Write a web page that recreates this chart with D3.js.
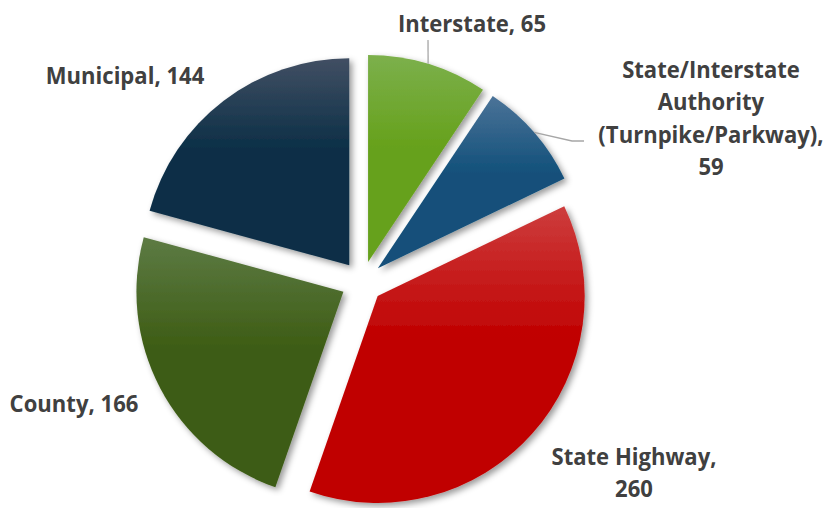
<!DOCTYPE html>
<html>
<head>
<meta charset="utf-8">
<script src="https://cdn.jsdelivr.net/npm/d3@7"></script>
<style>
    body { margin: 0; background: #ffffff; }
    svg { display: block; }
    .label { font-family: "Open Sans", sans-serif; font-weight: bold; font-size: 24px; fill: #404040; }
    .leader { fill: none; stroke: #a6a6a6; stroke-width: 1.3; }
</style>
</head>
<body>
<svg width="830" height="508"></svg>
<script>
let categories = ["Interstate", "State/Interstate Authority (Turnpike/Parkway)", "State Highway", "County", "Municipal"];
let values = [65, 59, 260, 166, 144];
let labelLines = [
    ["Interstate, 65"],
    ["State/Interstate", "Authority", "(Turnpike/Parkway),", "59"],
    ["State Highway,", "260"],
    ["County, 166"],
    ["Municipal, 144"]
];
let baseColors = ["#66a11b", "#12507a", "#c00000", "#3d5c14", "#0a2e46"];
let topColors = ["#7cb04c", "#4b7398", "#cd3d3d", "#5d7b44", "#414f63"];

// label anchors (center, first baseline) and optional leader end points
let labelLayout = [
    {x: 472, y: 32, leader: [[428, 40]]},
    {x: 711, y: 78, leader: [[572, 141], [584, 141]]},
    {x: 634, y: 465},
    {x: 74, y: 412},
    {x: 125, y: 84}
];

buildPie();

function buildPie(){
    let svg = d3.select("svg");
    let cx = 362, cy = 282, radius = 207, explode = 21, lineHeight = 32.5;

    let defs = svg.append("defs");
    let shadow = defs.append("filter")
        .attr("id", "shadow")
        .attr("x", "-20%").attr("y", "-20%")
        .attr("width", "140%").attr("height", "140%");
    shadow.append("feDropShadow")
        .attr("dx", 3).attr("dy", 3)
        .attr("stdDeviation", 3)
        .attr("flood-color", "#000")
        .attr("flood-opacity", 0.4);

    values.forEach(function(v, i){
        let grad = defs.append("linearGradient")
            .attr("id", "grad" + i)
            .attr("x1", 0).attr("y1", 0)
            .attr("x2", 0).attr("y2", 1);
        grad.append("stop").attr("offset", "0%").attr("stop-color", topColors[i]);
        grad.append("stop").attr("offset", "45%").attr("stop-color", baseColors[i]);
        grad.append("stop").attr("offset", "100%").attr("stop-color", baseColors[i]);
    });

    let pie = d3.pie().sort(null).value(function(d){ return d; });
    let arcs = pie(values);
    let arc = d3.arc().innerRadius(0).outerRadius(radius);

    let g = svg.append("g").attr("transform", "translate(" + cx + "," + cy + ")");

    let slices = g.selectAll("g.slice")
        .data(arcs)
        .enter()
        .append("g")
        .attr("class", "slice")
        .attr("transform", function(d){
            let mid = (d.startAngle + d.endAngle) / 2;
            return "translate(" + (Math.sin(mid) * explode) + "," + (-Math.cos(mid) * explode) + ")";
        });

    slices.append("path")
        .attr("d", arc)
        .attr("fill", function(d, i){ return "url(#grad" + i + ")"; })
        .attr("filter", "url(#shadow)");

    // leader lines start at the middle of each slice's outer arc
    arcs.forEach(function(d, i){
        let lay = labelLayout[i];
        if (!lay.leader) return;
        let mid = (d.startAngle + d.endAngle) / 2;
        let sx = cx + Math.sin(mid) * (explode + radius);
        let sy = cy - Math.cos(mid) * (explode + radius);
        let pts = [[sx, sy]].concat(lay.leader);
        svg.append("path")
            .attr("class", "leader")
            .attr("d", d3.line()(pts));
    });

    labelLines.forEach(function(lines, i){
        let lay = labelLayout[i];
        let t = svg.append("text")
            .attr("class", "label")
            .attr("text-anchor", "middle")
            .attr("transform", "translate(" + lay.x + "," + lay.y + ") scale(0.92,1)");
        lines.forEach(function(line, j){
            t.append("tspan")
                .attr("x", 0)
                .attr("y", j * lineHeight)
                .text(line);
        });
    });
}
</script>
</body>
</html>
